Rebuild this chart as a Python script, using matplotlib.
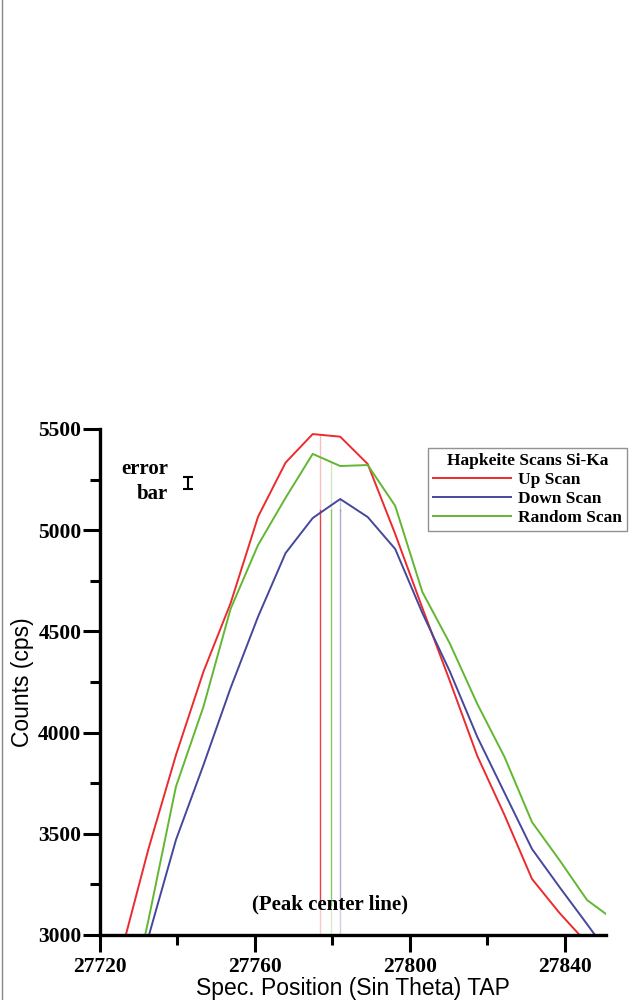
import matplotlib.pyplot as plt
from matplotlib.lines import Line2D

# spectrometer positions
positions = [27725.4, 27732.5, 27739.6, 27746.7, 27753.7, 27760.8, 27767.9, 27774.9,
             27782.0, 27789.1, 27796.2, 27803.2, 27810.3, 27817.4, 27824.4, 27831.5,
             27838.6, 27845.7, 27852.7]

up_scan = [2908, 3425, 3889, 4301, 4639, 5067, 5334, 5475, 5462, 5327,
           4981, 4616, 4255, 3884, 3593, 3277, 3109, 2960, 2800]
down_scan = [2600, 2990, 3470, 3840, 4220, 4573, 4887, 5060, 5154, 5065,
             4907, 4591, 4302, 3978, 3703, 3425, 3237, 3054, 2870]
random_scan = [2450, 3074, 3733, 4128, 4611, 4927, 5160, 5377, 5317, 5322,
               5120, 4695, 4440, 4141, 3880, 3558, 3370, 3173, 3074]

series_names = ["Up Scan", "Down Scan", "Random Scan"]
colors = ["#ec2b2e", "#45479c", "#63b632"]

# peak centre positions (up, down, random) and where each line starts
peak_x = [27776.8, 27781.9, 27779.5]
peak_top = [5470, 5154, 5337]
line_alpha = [0.9, 0.45, 0.75]

err_x = 27742.7
err_y = 5233
err_size = 30

serif = "Liberation Serif"
sans = "Liberation Sans"

fig = plt.figure(figsize=(6.29, 10), dpi=100)
ax = fig.add_axes([0.159, 0.065, 0.9634 - 0.159, 0.571 - 0.065])

# peak centre lines (pale at top and bottom, stronger in the middle)
for px, top, c, a in zip(peak_x, peak_top, colors, line_alpha):
    ax.plot([px, px], [5100, top], color=c, lw=1.0, alpha=0.3)
    ax.plot([px, px], [3150, 5100], color=c, lw=1.0, alpha=a)
    ax.plot([px, px], [3000, 3150], color=c, lw=1.0, alpha=0.25)

ax.plot(positions, up_scan, color=colors[0], lw=1.4, label=series_names[0])
ax.plot(positions, down_scan, color=colors[1], lw=1.4, label=series_names[1])
ax.plot(positions, random_scan, color=colors[2], lw=1.4, label=series_names[2])

# error bar sample
ax.errorbar([err_x], [err_y], yerr=[err_size], color="black", lw=1.5,
            capsize=3.6, capthick=1.5)
ax.text(27737.5, 5300, "error", ha="right", va="center", fontsize=15,
        fontweight="bold", family=serif)
ax.text(27737.5, 5180, "bar", ha="right", va="center", fontsize=15,
        fontweight="bold", family=serif)

ax.text(27779.4, 3150, "(Peak center line)", ha="center", va="center",
        fontsize=15, fontweight="bold", family=serif)

ax.set_xlim(27720, 27850.6)
ax.set_ylim(3000, 5500)
ax.set_xticks([27720, 27760, 27800, 27840])
ax.set_xticks([27740, 27780, 27820], minor=True)
ax.set_yticks([3000, 3500, 4000, 4500, 5000, 5500])
ax.set_yticks([3250, 3750, 4250, 4750, 5250], minor=True)

for s in ["top", "right"]:
    ax.spines[s].set_visible(False)
for s in ["left", "bottom"]:
    ax.spines[s].set_linewidth(2.4)

ax.tick_params(which="major", length=12.5, width=2.2, pad=1)
ax.tick_params(which="minor", length=7, width=2.2)
ax.tick_params(axis="x", which="major", pad=3)
for lab in ax.get_xticklabels() + ax.get_yticklabels():
    lab.set_fontfamily(serif)
    lab.set_fontweight("bold")
    lab.set_fontsize(15.5)

ax.set_xlabel("Spec. Position (Sin Theta) TAP", fontsize=16.5, family=sans,
              labelpad=0)
ax.set_ylabel("Counts (cps)", fontsize=16.5, family=sans, labelpad=3)

handles = [Line2D([], [], color=c, lw=1.4) for c in colors]
leg = ax.legend(handles, series_names, title="Hapkeite Scans Si-Ka",
                loc="upper left", bbox_to_anchor=(0.648, 0.962), borderaxespad=0,
                frameon=True, fancybox=False, edgecolor="#777777",
                handlelength=4.5, handletextpad=0.4, borderpad=0.3,
                labelspacing=0.15, prop={"family": serif, "weight": "bold", "size": 12.5})
leg.get_frame().set_linewidth(1.0)
leg.get_title().set_fontfamily(serif)
leg.get_title().set_fontweight("bold")
leg.get_title().set_fontsize(12.5)

# thin grey edge on the left of the page
fig.add_artist(Line2D([0.0035, 0.0035], [0, 1], color="#888888", lw=1.0,
                      transform=fig.transFigure))

fig.savefig("out.png", dpi=100)
